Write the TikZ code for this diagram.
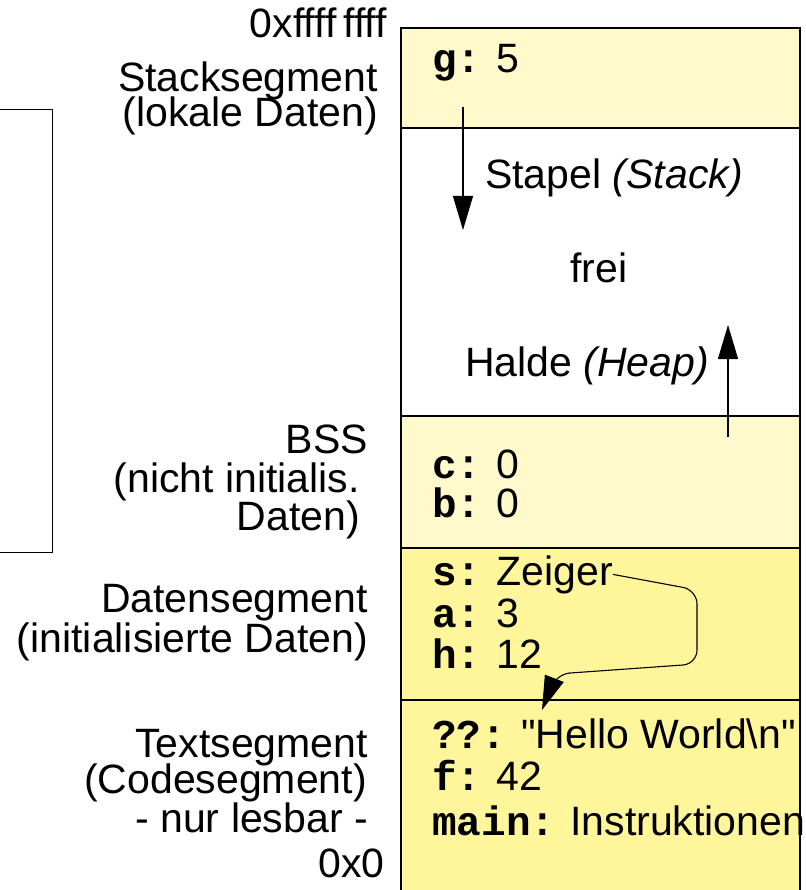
\documentclass[tikz,border=0pt]{standalone}
\usepackage{fontspec}
\setmainfont{Liberation Sans}
\setmonofont{Liberation Mono}
\usetikzlibrary{arrows.meta}
\tikzset{>={Triangle[length=34pt,width=20pt]}}
\definecolor{segpale}{RGB}{255, 249, 204}
\definecolor{segdark}{RGB}{255, 245, 154}
\newcommand{\cvar}[1]{\texttt{\bfseries #1:}}% variable name in the segment

\begin{document}
\begin{tikzpicture}[x=1pt, y=-1pt,
		every node/.style={inner sep=0pt, font={\fontsize{41}{38}\selectfont}},
		seg/.style={draw, line width=1.5pt},
		lbl/.style={anchor=base east},
		cell/.style={anchor=base west},
		ptr/.style={->, line width=1.1pt}]
	\clip (0,0) rectangle (805,890);

	% segments of the address space
	\filldraw[seg, fill=segpale] (401,28) rectangle (800,128);
	\filldraw[seg, fill=white] (401,128) rectangle (800,416);
	\filldraw[seg, fill=segpale] (401,416) rectangle (800,548);
	\filldraw[seg, fill=segdark] (401,548) rectangle (800,700);
	\filldraw[seg, fill=segdark] (401,700) rectangle (800,900);

	% bracket on the left
	\draw[line width=1pt] (0,110) -| (52,552) -- (0,552);

	% labels
	\node[lbl] (top) at (387,38) {0xffff\,ffff};
	\node[lbl] (stackA) at (378,92) {Stacksegment};
	\node[lbl] (stackB) at (378,127) {(lokale Daten)};
	\node[lbl] (bssA) at (368,453) {BSS};
	\node[lbl] (bssB) at (360,492) {(nicht initialis.};
	\node[lbl] (bssC) at (360,530) {Daten)};
	\node[lbl] (dataA) at (368,612) {Datensegment};
	\node[lbl] (dataB) at (368,652) {(initialisierte Daten)};
	\node[lbl] (textA) at (368,757) {Textsegment};
	\node[lbl] (textB) at (367,793) {(Codesegment)};
	\node[lbl] (textC) at (368,832) {- nur lesbar -};
	\node[lbl] (bottom) at (385,877) {0x0};

	% contents
	\node[cell] (g) at (432,73) {\cvar{g} 5};
	\node[cell] (stapel) at (485,189) {Stapel \textit{(Stack)}};
	\node[cell] (frei) at (570,283) {frei};
	\node[cell] (halde) at (465,376) {Halde \textit{(Heap)}};
	\node[cell] (c) at (432,478) {\cvar{c} 0};
	\node[cell] (b) at (432,517) {\cvar{b} 0};
	\node[cell] (s) at (432,585) {\cvar{s} Zeiger};
	\node[cell] (a) at (432,627) {\cvar{a} 3};
	\node[cell] (h) at (432,668) {\cvar{h} 12};
	\node[cell] (hello) at (432,748) {\cvar{??} \textquotedbl Hello World\textbackslash n\textquotedbl};
	\node[cell] (f) at (432,790) {\cvar{f} 42};
	\node[cell] (main) at (432,835) {\cvar{main} Instruktionen};

	% growth directions
	\coordinate (stackFrom) at (463,107);
	\coordinate (stackTo) at (463,230);
	\coordinate (heapFrom) at (728,437);
	\coordinate (heapTo) at (728,325);
	\draw[ptr] (stackFrom) -- (stackTo);
	\draw[ptr] (heapFrom) -- (heapTo);

	% pointer s into the text segment
	\coordinate (ptrTip) at (542,710);
	\draw[ptr, rounded corners=14pt] (s.east) -- (697,590) -- (697,664) -- (556,674) -- (ptrTip);
\end{tikzpicture}
\end{document}
